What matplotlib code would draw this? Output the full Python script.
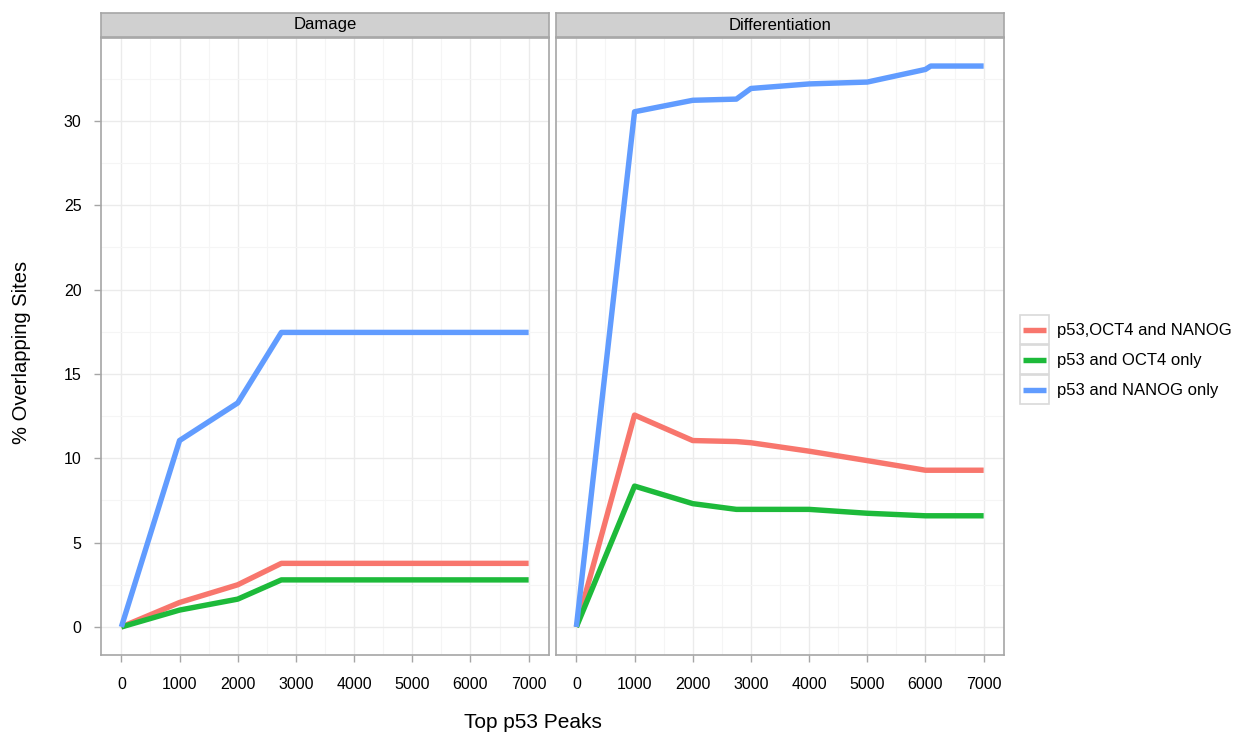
import matplotlib
matplotlib.use("Agg")
import matplotlib.pyplot as plt
from matplotlib.patches import Rectangle
from matplotlib.lines import Line2D

plt.rcParams['font.family'] = ['Liberation Sans', 'DejaVu Sans']

## data
peaks = [0, 1000, 2000, 2750, 3000, 4000, 5000, 6000, 6090, 7000]
panels = ["Damage", "Differentiation"]
series_names = ["p53,OCT4 and NANOG", "p53 and OCT4 only", "p53 and NANOG only"]
series_colors = ["#F8766D", "#1DBA3A", "#619CFF"]

damage_all = [0, 1.45, 2.5, 3.77, 3.77, 3.77, 3.77, 3.77, 3.77, 3.77]
damage_oct4 = [0, 1.0, 1.65, 2.79, 2.79, 2.79, 2.79, 2.79, 2.79, 2.79]
damage_nanog = [0, 11.05, 13.28, 17.46, 17.46, 17.46, 17.46, 17.46, 17.46, 17.46]

diff_all = [0, 12.56, 11.05, 10.99, 10.92, 10.42, 9.86, 9.29, 9.29, 9.29]
diff_oct4 = [0, 8.35, 7.31, 6.97, 6.97, 6.97, 6.74, 6.59, 6.59, 6.59]
diff_nanog = [0, 30.54, 31.22, 31.29, 31.92, 32.19, 32.3, 33.05, 33.25, 33.25]

panel_data = {
    "Damage": [damage_all, damage_oct4, damage_nanog],
    "Differentiation": [diff_all, diff_oct4, diff_nanog],
}

W, H = 1235, 736
fig = plt.figure(figsize=(W / 100, H / 100), dpi=100)


def px_axes(x0, y0, x1, y1):
    # pixel box (top-left origin) -> figure axes
    return fig.add_axes([x0 / W, 1 - y1 / H, (x1 - x0) / W, (y1 - y0) / H])


border = "#A6A6A6"
panel_left = [101, 556]
ymax = max(max(diff_nanog), max(damage_nanog))

for i, name in enumerate(panels):
    x0 = panel_left[i]
    ax = px_axes(x0, 38, x0 + 448, 655)
    for vals, col in zip(panel_data[name], series_colors):
        ax.plot(peaks, vals, color=col, lw=3.9, solid_capstyle='butt',
                solid_joinstyle='round', zorder=3)
    ax.set_xlim(-350, 7350)
    ax.set_ylim(-0.05 * ymax, ymax * 1.05)
    ax.set_xticks(range(0, 7001, 1000))
    ax.set_xticks(range(500, 7001, 1000), minor=True)
    ax.set_yticks(range(0, 31, 5))
    ax.set_yticks([2.5 + 5 * k for k in range(7)], minor=True)
    ax.grid(which='major', color='#EBEBEB', lw=1.0, zorder=0)
    ax.grid(which='minor', color='#F5F5F5', lw=0.8, zorder=0)
    ax.set_axisbelow(True)
    for sp in ax.spines.values():
        sp.set_color(border)
        sp.set_linewidth(1.2)
    ax.tick_params(which='major', length=5, width=1, color=border,
                   labelsize=11.5, labelcolor='black')
    ax.tick_params(axis='x', pad=11)
    ax.tick_params(axis='y', pad=9)
    ax.tick_params(which='minor', length=0)
    if i > 0:
        ax.tick_params(axis='y', left=False, labelleft=False)

    # facet strip
    sax = px_axes(x0, 13, x0 + 448, 37)
    sax.set_facecolor('#D0D0D0')
    sax.set_xticks([])
    sax.set_yticks([])
    for sp in sax.spines.values():
        sp.set_color(border)
        sp.set_linewidth(1.2)
    sax.text(0.5, 0.5, name, ha='center', va='center', fontsize=12,
             transform=sax.transAxes)

fig.text(533 / W, 1 - 722 / H, "Top p53 Peaks", ha='center', va='center',
         fontsize=15)
fig.text(22 / W, 1 - 352 / H, "% Overlapping Sites", ha='center', va='center',
         fontsize=14.5, rotation=90)

## legend drawn by hand, ggplot style keys
lax = px_axes(1015, 310, 1235, 410)
lax.set_xlim(1015, 1235)
lax.set_ylim(410, 310)
lax.axis('off')
for k, (lab, col) in enumerate(zip(series_names, series_colors)):
    top = 315 + k * 30
    lax.add_patch(Rectangle((1020, top), 29, 29, facecolor='white',
                            edgecolor='#D9D9D9', lw=1.2))
    lax.add_line(Line2D([1023, 1046], [top + 14.5, top + 14.5], color=col,
                        lw=3.9, solid_capstyle='butt'))
    lax.text(1057, top + 15, lab, va='center', ha='left', fontsize=12)

fig.savefig("out.png", dpi=100)
plt.close(fig)
